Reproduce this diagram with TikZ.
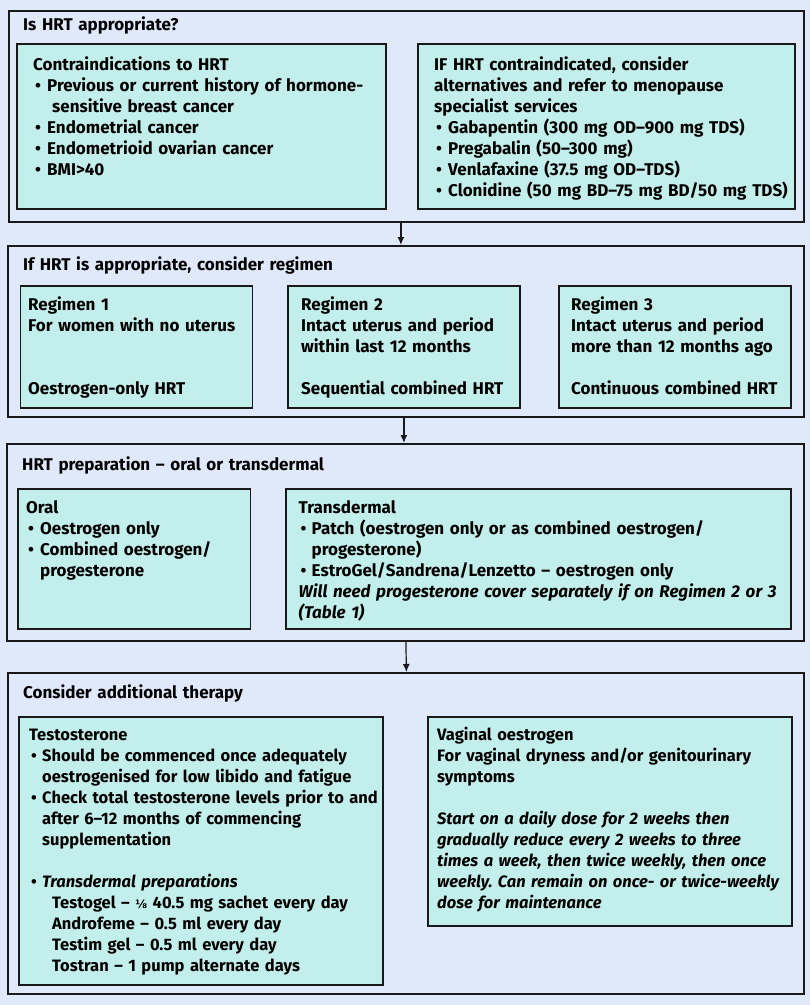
\documentclass[tikz,border=0pt]{standalone}
\usepackage{fontspec}
\setmainfont{Fira Sans}
\newfontfamily\dejavu{DejaVu Sans}
\usetikzlibrary{arrows.meta}
\definecolor{secbg}{RGB}{223,233,250}
\definecolor{boxbg}{RGB}{194,239,235}
\definecolor{edge}{RGB}{25,25,25}
\newcommand\bul[2][14pt]{\par\noindent\hangindent=#1\hangafter=1\makebox[#1][l]{\hspace{2pt}•}#2\par}
\newcommand\blank{\par\noindent\mbox{}\par}
\frenchspacing
\begin{document}
\begin{tikzpicture}[x=1pt,y=-1pt,
  secbox/.style={draw=edge, line width=1.8pt, fill=secbg, anchor=north west, inner sep=0pt},
  inbox/.style={draw=edge, line width=1.8pt, fill=boxbg, anchor=north west, inner sep=0pt},
  txt/.style={anchor=base west, inner sep=0pt, align=left, text width=#1,
    font=\frenchspacing\fontsize{17}{21}\selectfont\bfseries},
  stxt/.style={txt=#1, font=\frenchspacing\fontsize{16.5}{21}\selectfont\bfseries},
  arr/.style={draw=edge, line width=1.2pt, -{Latex[length=8pt,width=7pt]}}]
\fill[secbg] (0,0) rectangle (810,1005);
\useasboundingbox (0,0) rectangle (810,1005);

% Section 1
\node[secbox, minimum width=795pt, minimum height=211pt] (s1) at (8,10) {};
\node[txt=300pt] (t1) at (23,30.5) {Is HRT appropriate?};
\node[inbox, minimum width=369pt, minimum height=165pt] (a) at (16,43) {};
\node[txt=400pt] (ta) at (33,70.5) {Contraindications to HRT
\bul{Previous or current history of hormone-\newline\hspace*{5pt}sensitive breast cancer}
\bul{Endometrial cancer}
\bul{Endometrioid ovarian cancer}
\bul{BMI>40}};
\node[inbox, minimum width=377pt, minimum height=165pt] (b) at (417,43) {};
\node[txt=400pt] (tb) at (434,70.5) {IF HRT contraindicated, consider\\alternatives and refer to menopause\\specialist services
\bul{Gabapentin (300 mg OD–900 mg TDS)}
\bul{Pregabalin (50–300 mg)}
\bul{Venlafaxine (37.5 mg OD–TDS)}
\bul{Clonidine (50 mg BD–75 mg BD/50 mg TDS)}};

% Section 2
\node[secbox, minimum width=796pt, minimum height=171pt] (s2) at (7,245) {};
\node[txt=450pt] (t2) at (23,270.5) {If HRT is appropriate, consider regimen};
\node[inbox, minimum width=232pt, minimum height=122pt] (r1) at (19.5,285) {};
\node[inbox, minimum width=232pt, minimum height=122pt] (r2) at (287,285) {};
\node[inbox, minimum width=232pt, minimum height=122pt] (r3) at (558,285) {};
\node[txt=260pt] (tr1) at (28,310.5) {Regimen 1\\For women with no uterus\\[42pt]Oestrogen-only HRT};
\node[txt=260pt] (tr2) at (301,310.5) {Regimen 2\\Intact uterus and period\\within last 12 months\\[21pt]Sequential combined HRT};
\node[txt=260pt] (tr3) at (571,310.5) {Regimen 3\\Intact uterus and period\\more than 12 months ago\\[21pt]Continuous combined HRT};

% Section 3
\node[secbox, minimum width=797pt, minimum height=197pt] (s3) at (6,443) {};
\node[txt=450pt] (t3) at (22,470.5) {HRT preparation – oral or transdermal};
\node[inbox, minimum width=232.5pt, minimum height=140pt] (oral) at (17,488) {};
\node[inbox, minimum width=505pt, minimum height=140pt] (trans) at (285,488) {};
\node[txt=260pt] (toral) at (26,513.5) {Oral
\bul{Oestrogen only}
\bul{Combined oestrogen/\newline progesterone}};
\node[txt=540pt] (ttrans) at (298.5,513.5) {Transdermal
\bul[13pt]{Patch (oestrogen only or as combined oestrogen/\newline progesterone)}
\bul[13pt]{EstroGel/Sandrena/Lenzetto – oestrogen only}
\noindent\itshape Will need progesterone cover separately if on Regimen 2 or 3\\(Table 1)};

% Section 4
\node[secbox, minimum width=796pt, minimum height=321pt] (s4) at (7,672) {};
\node[txt=400pt] (t4) at (23,698.5) {Consider additional therapy};
\node[inbox, minimum width=364pt, minimum height=268pt] (testo) at (18,716) {};
\node[inbox, minimum width=364pt, minimum height=209pt] (vag) at (427,716) {};
\node[stxt=400pt] (ttesto) at (29,740.5) {Testosterone
\bul[13pt]{Should be commenced once adequately\newline oestrogenised for low libido and fatigue}
\bul[13pt]{Check total testosterone levels prior to and\newline after 6–12 months of commencing\newline supplementation}
\blank
\bul[13pt]{\textit{Transdermal preparations}}
\noindent\hspace*{23pt}Testogel – {\dejavu\fontsize{11.5}{21}\selectfont ⅛} 40.5 mg sachet every day\\
\hspace*{23pt}Androfeme – 0.5 ml every day\\
\hspace*{23pt}Testim gel – 0.5 ml every day\\
\hspace*{23pt}Tostran – 1 pump alternate days};
\node[stxt=400pt] (tvag) at (437,740.5) {Vaginal oestrogen\\For vaginal dryness and/or genitourinary\\symptoms\\[21pt]
\itshape Start on a daily dose for 2 weeks then\\gradually reduce every 2 weeks to three\\times a week, then twice weekly, then once\\weekly. Can remain on once- or twice-weekly\\dose for maintenance};

% Connectors
\draw[arr] ([xshift=-5.5pt]s1.south) -- ([xshift=-5pt]s2.north);
\draw[arr] ([xshift=-2pt]s2.south) -- ([xshift=-1.5pt]s3.north);
\draw[arr] ([xshift=0.5pt]s3.south) -- ([xshift=0.5pt]s4.north);
\end{tikzpicture}
\end{document}
